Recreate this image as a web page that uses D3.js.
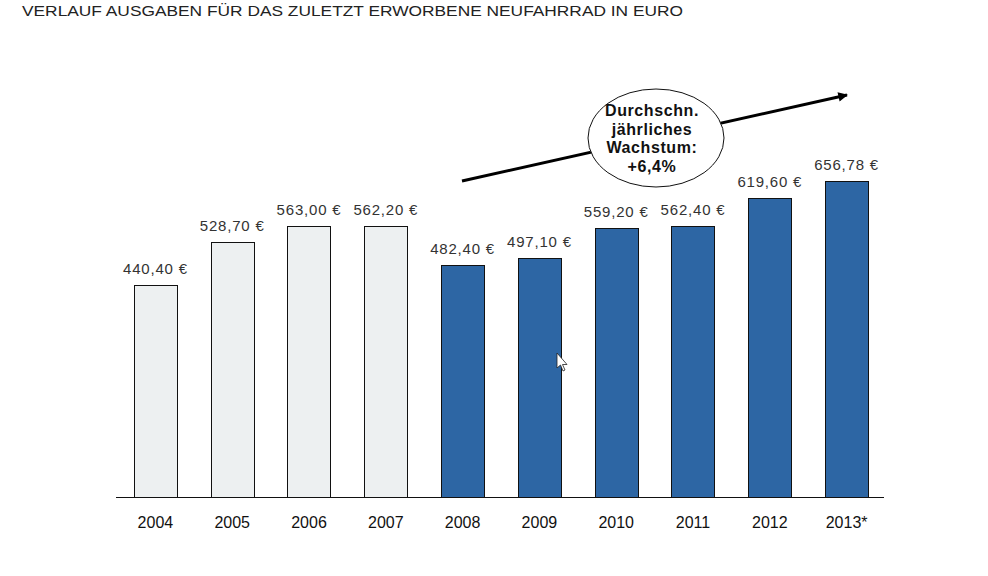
<!DOCTYPE html>
<html><head><meta charset="utf-8">
<script src="https://cdn.jsdelivr.net/npm/d3@7"></script>
<style>body{margin:0;background:#fff}svg{display:block}</style>
</head><body>
<svg id="c" width="988" height="576"></svg>
<script>
const title = "VERLAUF AUSGABEN FÜR DAS ZULETZT ERWORBENE NEUFAHRRAD IN EURO";
const years = ["2004","2005","2006","2007","2008","2009","2010","2011","2012","2013*"];
const values = [440.40, 528.70, 563.00, 562.20, 482.40, 497.10, 559.20, 562.40, 619.60, 656.78];
const valueLabels = ["440,40 €","528,70 €","563,00 €","562,20 €","482,40 €","497,10 €","559,20 €","562,40 €","619,60 €","656,78 €"];
const groups = ["alt","alt","alt","alt","neu","neu","neu","neu","neu","neu"];
const bubbleLines = ["Durchschn.","jährliches","Wachstum:","+6,4%"];

const svg = d3.select("#c");
const colors = {alt:"#edf0f1", neu:"#2d66a4"};

svg.append("text").attr("x",22).attr("y",16)
  .attr("font-family","Liberation Sans, Arial, sans-serif").attr("font-size",15.5)
  .attr("fill","#222").attr("textLength",661).attr("lengthAdjust","spacingAndGlyphs")
  .text(title);

const x = d3.scaleBand().domain(years).range([117,885]).paddingInner(0.44).paddingOuter(0.22);
const y = d3.scaleLinear().domain([0,656.78]).range([497.5,180.5]);

const bars = svg.append("g");
bars.selectAll("rect").data(years).join("rect")
  .attr("x",d=>Math.round(x(d))+0.5)
  .attr("y",(d,i)=>Math.round(y(values[i]))+0.5)
  .attr("width",Math.round(x.bandwidth()))
  .attr("height",(d,i)=>y(0)-Math.round(y(values[i]))-0.5)
  .attr("fill",(d,i)=>colors[groups[i]])
  .attr("stroke","#111").attr("stroke-width",1);

svg.append("g").selectAll("text").data(years).join("text")
  .attr("x",d=>x(d)+x.bandwidth()/2)
  .attr("y",(d,i)=>y(values[i])-11)
  .attr("text-anchor","middle")
  .attr("font-family","Liberation Sans, Arial, sans-serif").attr("font-size",15)
  .attr("letter-spacing",0.8).attr("fill","#333")
  .text((d,i)=>valueLabels[i]);

// x axis
const xAxis = d3.axisBottom(x).tickSize(0).tickPadding(19);
const ax = svg.append("g").attr("transform","translate(0,497.5)").call(xAxis);
ax.select(".domain").attr("d","M116,0H884").attr("stroke","#111");
ax.selectAll("text").attr("font-family","Liberation Sans, Arial, sans-serif")
  .attr("font-size",16).attr("fill","#111");

// growth arrow
const defs = svg.append("defs");
defs.append("marker").attr("id","ah").attr("viewBox","0 0 10 10").attr("refX",9).attr("refY",5)
  .attr("markerWidth",4).attr("markerHeight",3.2).attr("orient","auto").attr("markerUnits","strokeWidth")
  .append("path").attr("d","M0,0L10,5L0,10Z").attr("fill","#000");
svg.append("line").attr("x1",462).attr("y1",181).attr("x2",847).attr("y2",95)
  .attr("stroke","#000").attr("stroke-width",3).attr("marker-end","url(#ah)");

svg.append("ellipse").attr("cx",656).attr("cy",138).attr("rx",68).attr("ry",49)
  .attr("fill","#fff").attr("stroke","#111").attr("stroke-width",1);
svg.append("g").selectAll("text").data(bubbleLines).join("text")
  .attr("x",652).attr("y",(d,i)=>116+i*18.5)
  .attr("text-anchor","middle")
  .attr("font-family","Liberation Sans, Arial, sans-serif").attr("font-weight","bold")
  .attr("font-size",16).attr("letter-spacing",0.6).attr("fill","#111")
  .text(d=>d);

// mouse cursor artifact
svg.append("path").attr("d","M557,353 L557,368 L560.5,365 L563,371 L565,370 L562.5,364.5 L567,364.5 Z")
  .attr("fill","#fff").attr("stroke","#222").attr("stroke-width",0.8);
</script>
</body></html>
